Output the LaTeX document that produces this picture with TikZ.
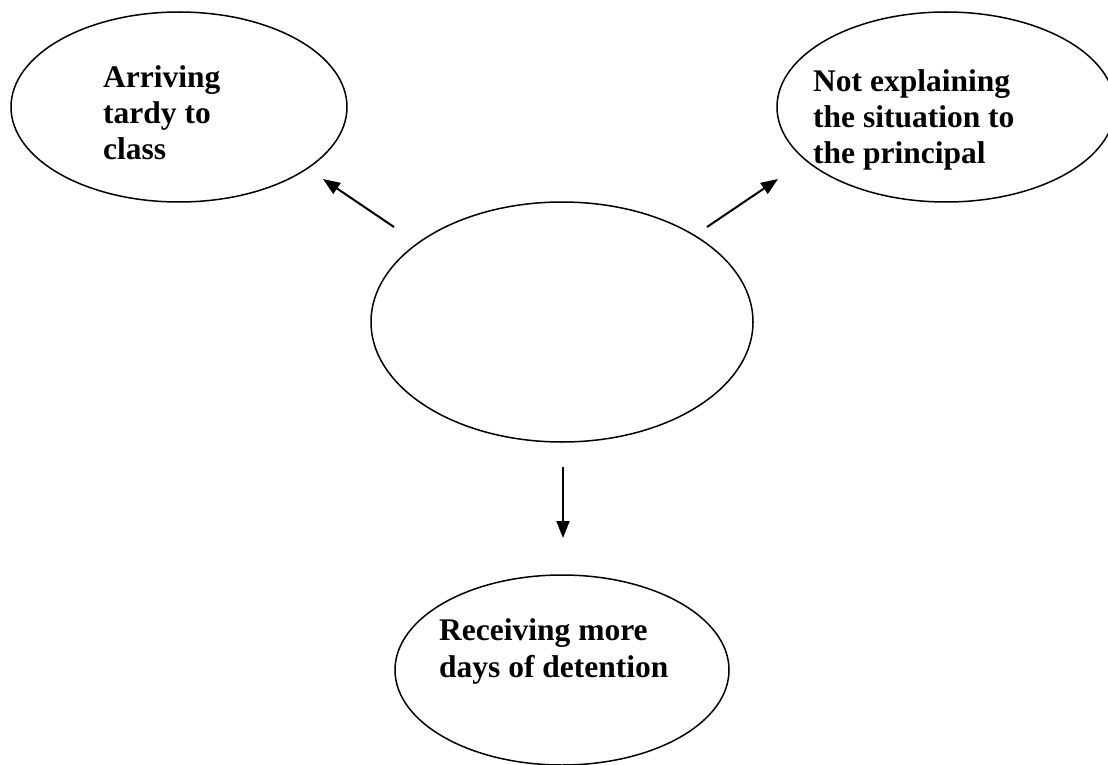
\documentclass[tikz,border=0pt]{standalone}
\usepackage{fontspec}
\setmainfont{Liberation Serif}
\usetikzlibrary{shapes.geometric,arrows.meta}
\begin{document}
\begin{tikzpicture}[x=1pt,y=-1pt,
  bubble/.style={draw,ellipse,line width=1.5pt,inner sep=0pt},
  lbl/.style={anchor=base west,inner sep=0pt,font=\fontsize{31.5}{36}\selectfont\bfseries},
  arr/.style={line width=2pt,-{Triangle[length=17pt,width=13pt]}}]
\path[use as bounding box] (0,0) rectangle (1108,765);
\clip (0,0) rectangle (1108,765);
\fill[white] (0,0) rectangle (1108,765);
% ellipses
\node[bubble,minimum width=336pt,minimum height=190pt] (tl) at (179,107) {};
\node[bubble,minimum width=338pt,minimum height=190pt] (tr) at (946,107) {};
\node[bubble,minimum width=382pt,minimum height=240pt] (c) at (562,322) {};
\node[bubble,minimum width=334pt,minimum height=190pt] (b) at (562,670) {};
% labels
\node[lbl] (tl1) at (103,88) {Arriving};
\node[lbl] (tl2) at (103,124) {tardy to};
\node[lbl] (tl3) at (103,160) {class};
\node[lbl] (tr1) at (813,92) {Not explaining};
\node[lbl] (tr2) at (813,128) {the situation to};
\node[lbl] (tr3) at (813,164) {the principal};
\node[lbl] (b1) at (439,640) {Receiving more};
\node[lbl] (b2) at (439,677) {days of detention};
% arrows
\coordinate (a1s) at (394,227); \coordinate (a1e) at (323,179);
\coordinate (a2s) at (707,227); \coordinate (a2e) at (778,179);
\coordinate (a3s) at (563,467); \coordinate (a3e) at (563,538);
\draw[arr] (a1s) -- (a1e);
\draw[arr] (a2s) -- (a2e);
\draw[arr] (a3s) -- (a3e);
\end{tikzpicture}
\end{document}
